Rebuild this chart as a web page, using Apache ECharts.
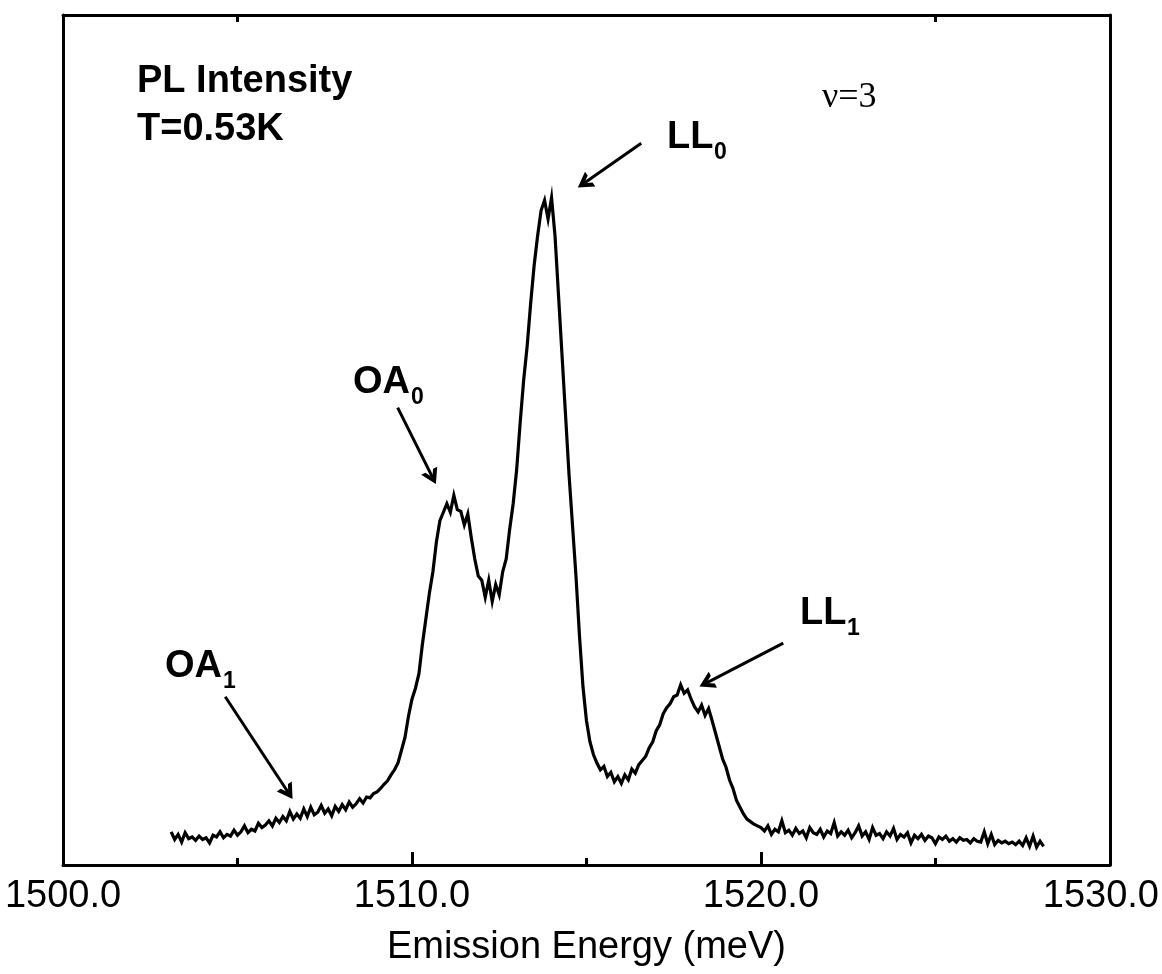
<!DOCTYPE html>
<html>
<head>
<meta charset="utf-8">
<script src="https://cdn.jsdelivr.net/npm/echarts@6/dist/echarts.min.js"></script>
<style>
html,body{margin:0;padding:0;background:#fff;}
#chart{width:1162px;height:974px;}
</style>
</head>
<body>
<div id="chart"></div>
<script>
// Emission energy (meV)
var energy = [
1503.1,1503.2,1503.3,1503.4,1503.5,1503.6,1503.7,1503.8,1503.9,1504.0,
1504.1,1504.2,1504.3,1504.4,1504.5,1504.6,1504.7,1504.8,1504.9,1505.0,
1505.1,1505.2,1505.3,1505.4,1505.5,1505.6,1505.7,1505.8,1505.9,1506.0,
1506.1,1506.2,1506.3,1506.4,1506.5,1506.6,1506.7,1506.8,1506.9,1507.0,
1507.1,1507.2,1507.3,1507.4,1507.5,1507.6,1507.7,1507.8,1507.9,1508.0,
1508.1,1508.2,1508.3,1508.4,1508.5,1508.6,1508.7,1508.8,1508.9,1509.0,
1509.1,1509.2,1509.3,1509.4,1509.5,1509.6,1509.7,1509.8,1509.9,1510.0,
1510.1,1510.2,1510.3,1510.4,1510.5,1510.6,1510.7,1510.8,1510.9,1511.0,
1511.1,1511.2,1511.3,1511.4,1511.5,1511.6,1511.7,1511.8,1511.9,1512.0,
1512.1,1512.2,1512.3,1512.4,1512.5,1512.6,1512.7,1512.8,1512.9,1513.0,
1513.1,1513.2,1513.3,1513.4,1513.5,1513.6,1513.7,1513.8,1513.9,1514.0,
1514.1,1514.2,1514.3,1514.4,1514.5,1514.6,1514.7,1514.8,1514.9,1515.0,
1515.1,1515.2,1515.3,1515.4,1515.5,1515.6,1515.7,1515.8,1515.9,1516.0,
1516.1,1516.2,1516.3,1516.4,1516.5,1516.6,1516.7,1516.8,1516.9,1517.0,
1517.1,1517.2,1517.3,1517.4,1517.5,1517.6,1517.7,1517.8,1517.9,1518.0,
1518.1,1518.2,1518.3,1518.4,1518.5,1518.6,1518.7,1518.8,1518.9,1519.0,
1519.1,1519.2,1519.3,1519.4,1519.5,1519.6,1519.7,1519.8,1519.9,1520.0,
1520.1,1520.2,1520.3,1520.4,1520.5,1520.6,1520.7,1520.8,1520.9,1521.0,
1521.1,1521.2,1521.3,1521.4,1521.5,1521.6,1521.7,1521.8,1521.9,1522.0,
1522.1,1522.2,1522.3,1522.4,1522.5,1522.6,1522.7,1522.8,1522.9,1523.0,
1523.1,1523.2,1523.3,1523.4,1523.5,1523.6,1523.7,1523.8,1523.9,1524.0,
1524.1,1524.2,1524.3,1524.4,1524.5,1524.6,1524.7,1524.8,1524.9,1525.0,
1525.1,1525.2,1525.3,1525.4,1525.5,1525.6,1525.7,1525.8,1525.9,1526.0,
1526.1,1526.2,1526.3,1526.4,1526.5,1526.6,1526.7,1526.8,1526.9,1527.0,
1527.1,1527.2,1527.3,1527.4,1527.5,1527.6,1527.7,1527.8,1527.9,1528.0,
1528.1
];
// PL intensity (arb. units), same order as energy
var intensity = [
3.9,3.0,3.6,2.7,3.8,3.1,3.3,2.9,3.4,3.0,
3.2,2.6,3.5,3.3,3.9,3.2,3.6,3.4,4.1,3.5,
3.9,4.6,3.8,4.2,4.0,4.9,4.4,4.7,5.2,4.6,
5.5,5.0,5.7,5.2,6.3,5.4,6.0,5.5,6.6,5.7,
6.8,5.9,6.2,7.0,6.1,6.6,5.8,6.9,6.3,7.1,
6.5,7.4,6.8,7.2,7.8,7.3,8.0,7.9,8.4,8.6,
9.0,9.5,9.9,10.6,11.2,12.0,13.5,15.0,17.5,19.5,
20.8,22.5,26.0,29.0,32.0,34.5,38.0,40.5,41.5,42.5,
41.5,43.5,41.8,41.6,40.0,41.3,38.5,36.0,34.0,33.5,
31.5,33.5,31.0,33.0,31.8,34.5,36.0,39.5,42.5,46.5,
52.0,57.0,61.0,66.0,70.5,74.0,77.0,78.2,76.0,78.5,
74.0,67.0,60.0,53.0,46.0,40.0,34.0,27.0,21.0,17.0,
14.5,13.0,12.0,11.2,11.6,10.4,10.9,9.8,10.4,9.6,
10.6,10.0,11.3,10.8,11.8,12.3,12.8,13.8,14.5,15.8,
16.5,17.8,18.5,19.0,19.8,20.0,21.2,20.2,20.6,19.5,
18.6,18.0,18.8,17.6,18.4,17.0,15.5,14.0,12.5,11.5,
10.0,9.0,7.6,6.8,6.0,5.4,5.1,4.8,4.6,4.4,
4.0,4.6,3.6,4.2,3.9,5.2,3.8,4.1,3.5,4.3,
3.7,4.0,3.2,4.4,3.8,3.6,4.2,3.3,4.0,3.7,
5.0,3.4,3.9,3.5,4.1,3.2,3.8,4.6,3.4,3.9,
3.0,4.4,3.5,3.7,3.1,3.9,3.4,4.3,3.0,3.6,
3.3,3.8,2.6,3.5,3.1,3.6,2.9,3.4,3.2,2.5,
3.3,3.0,3.4,2.8,3.1,2.7,3.2,2.9,3.0,2.6,
3.1,2.8,2.7,3.9,2.5,3.6,2.4,2.9,2.6,2.8,
2.5,2.7,2.4,2.8,2.3,3.2,2.2,3.4,2.1,2.8,
2.2
];
var xTicks = [1500, 1510, 1520, 1530];
var xMinorTicksTop = [1505, 1525];
// Arrow annotations: [startEnergy, startIntensity, endEnergy, endIntensity]
var arrowLL0 = [1516.57, 84.9, 1514.93, 80.2];
var arrowOA0 = [1509.59, 53.8, 1510.59, 45.6];
var arrowLL1 = [1520.64, 26.1, 1518.43, 21.4];
var arrowOA1 = [1504.65, 19.8, 1506.46, 8.5];

var pairs = energy.map(function (e, i) { return [e, intensity[i]]; });
function arrow(a) {
  return [{ coord: [a[0], a[1]] }, { coord: [a[2], a[3]] }];
}

var chart = echarts.init(document.getElementById('chart'));
var black = '#000';
var sans = '"Liberation Sans", Arial, sans-serif';
var chevron = 'path://M0,10 L5,0 L10,10 L7.4,10 L5,5.2 L2.6,10 Z';

function subLabel(main, sub, left, top, mainWidth) {
  return [
    { type: 'text', left: left, top: top, style: { text: main, font: 'bold 38px ' + sans, fill: black } },
    { type: 'text', left: left + mainWidth + 1, top: top + 22, style: { text: sub, font: 'bold 23px ' + sans, fill: black } }
  ];
}

var graphics = [
  { type: 'text', left: 137, top: 63, style: { text: 'PL Intensity', font: 'bold 38px ' + sans, fill: black } },
  { type: 'text', left: 137, top: 111, style: { text: 'T=0.53K', font: 'bold 38px ' + sans, fill: black } },
  { type: 'text', left: 822, top: 80, style: { text: 'ν=3', font: '36px "Liberation Serif", "Times New Roman", serif', fill: black } }
].concat(
  subLabel('LL', '0', 667, 119, 46),
  subLabel('OA', '0', 353, 364, 57),
  subLabel('LL', '1', 800, 595, 46),
  subLabel('OA', '1', 165, 648, 57)
);

var option = {
  animation: false,
  backgroundColor: '#fff',
  grid: { left: 63, right: 52, top: 15, bottom: 109 },
  xAxis: [{
    type: 'value', position: 'bottom',
    min: xTicks[0], max: xTicks[xTicks.length - 1], interval: 10,
    axisLine: { show: true, onZero: false, lineStyle: { color: black, width: 3 } },
    axisTick: { show: true, inside: true, length: 13, lineStyle: { color: black, width: 3 } },
    minorTick: { show: true, splitNumber: 2, length: 7, lineStyle: { color: black, width: 3 } },
    splitLine: { show: false },
    axisLabel: {
      color: black, fontSize: 38, fontFamily: sans,
      margin: 13,
      formatter: function (v) {
        return v === xTicks[xTicks.length - 1] ? '{last|' + v.toFixed(1) + '}' : v.toFixed(1);
      },
      rich: { last: { fontSize: 38, fontFamily: sans, color: black, padding: [0, 18, 0, 0] } }
    },
    name: 'Emission Energy (meV)', nameLocation: 'middle', nameGap: 64,
    nameTextStyle: { color: black, fontSize: 38, fontFamily: sans }
  }, {
    type: 'value', position: 'top',
    min: xTicks[0], max: xTicks[xTicks.length - 1], interval: 10,
    axisLine: { show: true, onZero: false, lineStyle: { color: black, width: 3 } },
    axisTick: { show: true, inside: true, length: 7, customValues: xMinorTicksTop, lineStyle: { color: black, width: 3 } },
    axisLabel: { show: false },
    splitLine: { show: false }
  }],
  yAxis: [{
    type: 'value', position: 'left', min: 0, max: 100,
    axisLine: { show: true, onZero: false, lineStyle: { color: black, width: 3 } },
    axisTick: { show: false }, axisLabel: { show: false }, splitLine: { show: false }
  }, {
    type: 'value', position: 'right', min: 0, max: 100,
    axisLine: { show: true, onZero: false, lineStyle: { color: black, width: 3 } },
    axisTick: { show: false }, axisLabel: { show: false }, splitLine: { show: false }
  }],
  series: [{
    type: 'line',
    data: pairs,
    showSymbol: false,
    lineStyle: { color: black, width: 3.2, join: 'miter' },
    itemStyle: { color: black },
    markLine: {
      silent: true,
      symbol: ['none', chevron],
      symbolSize: [18, 15],
      lineStyle: { color: black, width: 3, type: 'solid' },
      itemStyle: { color: black },
      label: { show: false },
      emphasis: { disabled: true },
      data: [arrow(arrowLL0), arrow(arrowOA0), arrow(arrowLL1), arrow(arrowOA1)]
    }
  }],
  graphic: graphics
};
chart.setOption(option);
</script>
</body>
</html>
